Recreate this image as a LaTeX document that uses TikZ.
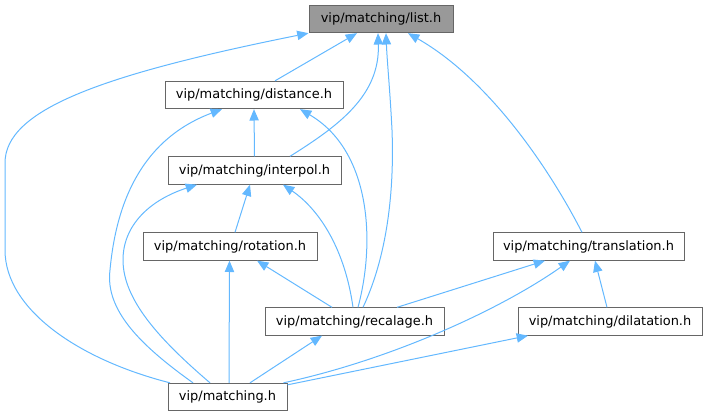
\documentclass[tikz,border=0pt]{standalone}
\usepackage{fontspec}
\setmainfont{DejaVu Sans}
\usetikzlibrary{arrows.meta,calc}
\definecolor{edgec}{HTML}{63B8FF}
\definecolor{boxc}{HTML}{666666}
\definecolor{fillc}{HTML}{999999}
\begin{document}
\begin{tikzpicture}[x=0.75pt,y=-0.75pt,
  box/.style={draw=boxc, line width=0.75pt, inner sep=0pt, minimum height=20.5pt,
    font=\fontsize{9.7pt}{11pt}\selectfont, fill=white},
  dep/.style={draw=edgec, line width=0.75pt, -{Triangle[length=8.5pt,width=7pt]}}]
\useasboundingbox (0,0) rectangle (708,417);
\node[box, fill=fillc, minimum width=108pt] (list) at (381,19) {vip/matching/list.h};
\node[box, minimum width=133.5pt] (dist) at (254,95) {vip/matching/distance.h};
\node[box, minimum width=129.75pt] (interp) at (254.5,170.5) {vip/matching/interpol.h};
\node[box, minimum width=130.5pt] (rot) at (230,246.5) {vip/matching/rotation.h};
\node[box, minimum width=134.25pt] (rec) at (354.5,321.5) {vip/matching/recalage.h};
\node[box, minimum width=89.25pt] (match) at (227.5,397) {vip/matching.h};
\node[box, minimum width=143.25pt] (trans) at (588.5,246.5) {vip/matching/translation.h};
\node[box, minimum width=138pt] (dil) at (610,321.5) {vip/matching/dilatation.h};
% edges
\draw[dep] ($(match.north)+(-57.5,0)$) .. controls (80,360) and (5,310) .. (5,250)
  -- (5,163) .. controls (5,110) and (100,75) .. (list.south west);
\draw[dep] ($(dist.north)+(21,0)$) -- ($(list.south)+(-24,0)$);
\draw[dep] ($(interp.north)+(35.5,0)$) .. controls (340,125) and (380,95) .. ($(list.south)+(-3,0)$);
\draw[dep] ($(rec.north)+(8.5,0)$) .. controls (390,250) and (394,180) .. (392,130)
  .. controls (390,90) and (387,60) .. ($(list.south)+(5,0)$);
\draw[dep] ($(trans.north)+(-6.5,0)$) .. controls (550,170) and (490,80) .. ($(list.south)+(27,0)$);
\draw[dep] (interp.north) -- (dist.south);
\draw[dep] ($(match.north)+(-34.5,0)$) .. controls (140,345) and (105,310) .. (110,270)
  .. controls (116,205) and (140,140) .. ($(dist.south)+(-32,0)$);
\draw[dep] ($(rec.north)+(3.5,0)$) .. controls (376,240) and (370,150) .. ($(dist.south)+(46,0)$);
\draw[dep] ($(rot.north)+(5,0)$) -- ($(interp.south)+(-4.5,0)$);
\draw[dep] ($(match.north)+(-17.5,0)$) .. controls (160,340) and (123,300) .. (123,260)
  .. controls (123,225) and (150,200) .. ($(interp.south)+(-57.5,0)$);
\draw[dep] ($(rec.north)+(-1.5,0)$) .. controls (345,250) and (320,210) .. ($(interp.south)+(28.5,0)$);
\draw[dep] ($(match.north)+(1.5,0)$) -- ($(rot.south)+(-0.5,0)$);
\draw[dep] ($(rec.north)+(-22.5,0)$) -- ($(rot.south)+(27,0)$);
\draw[dep] ($(match.north)+(22.5,0)$) -- ($(rec.south)+(-32.5,0)$);
\draw[dep] ($(rec.north)+(42.5,0)$) -- ($(trans.south)+(-43.5,0)$);
\draw[dep] ($(match.north)+(56,0)$) .. controls (390,360) and (500,310) .. ($(trans.south)+(-18.5,0)$);
\draw[dep] ($(dil.north)+(-3,0)$) -- ($(trans.south)+(6.5,0)$);
\draw[dep] ($(match.north east)+(0,2)$) -- ($(dil.south)+(-82,0)$);
\end{tikzpicture}
\end{document}
